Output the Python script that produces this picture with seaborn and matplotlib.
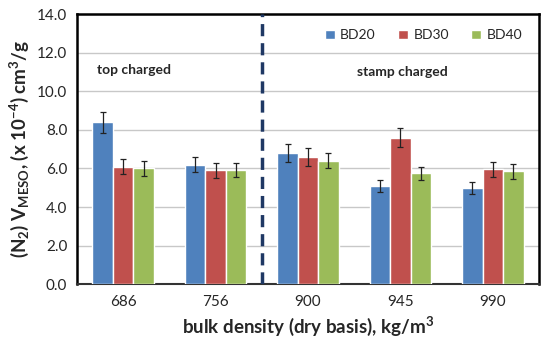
import numpy as np
import pandas as pd
import matplotlib
matplotlib.use("Agg")
import matplotlib.pyplot as plt
import seaborn as sns

densities = ["686", "756", "900", "945", "990"]
series = ["BD20", "BD30", "BD40"]
bd20 = [8.4, 6.2, 6.8, 5.1, 5.0]
bd30 = [6.1, 5.9, 6.6, 7.6, 5.95]
bd40 = [6.0, 5.9, 6.4, 5.75, 5.85]
err20 = [0.55, 0.4, 0.45, 0.3, 0.32]
err30 = [0.4, 0.4, 0.45, 0.5, 0.4]
err40 = [0.4, 0.37, 0.4, 0.35, 0.4]
colors = ["#4F81BD", "#C0504D", "#9BBB59"]

df = pd.DataFrame({
    "density": densities * 3,
    "series": [s for s in series for _ in densities],
    "value": bd20 + bd30 + bd40,
    "err": err20 + err30 + err40,
})

sns.set_style("white")
plt.rcParams["font.family"] = ["Lato", "DejaVu Sans"]
plt.rcParams["mathtext.fontset"] = "custom"
plt.rcParams["mathtext.rm"] = "Lato:bold"
plt.rcParams["mathtext.bf"] = "Lato:bold"
plt.rcParams["mathtext.it"] = "Lato:bold"
plt.rcParams["mathtext.default"] = "bf"

fig = plt.figure(figsize=(5.5, 3.53), dpi=100)
ax = fig.add_axes([0.14, 0.195, 0.84, 0.765])

sns.barplot(data=df, x="density", y="value", hue="series", palette=colors,
            width=0.665, saturation=1, errorbar=None, ax=ax, zorder=3)

# error bars at the centre of each bar
for cont, s in zip(ax.containers, series):
    sub = df[df["series"] == s]
    xs = [p.get_x() + p.get_width() / 2 for p in cont.patches]
    ax.errorbar(xs, sub["value"], yerr=sub["err"], fmt="none", ecolor="#222222",
                elinewidth=0.9, capsize=2.5, capthick=0.9, zorder=4)

ax.set_ylim(0, 14)
ax.set_yticks(np.arange(0, 14.1, 2))
ax.set_yticklabels([f"{v:.1f}" for v in np.arange(0, 14.1, 2)], fontsize=11)
ax.set_xlim(-0.5, 4.5)
ax.tick_params(axis="x", length=0, labelsize=11, pad=8)
ax.set_xticks(np.arange(-0.5, 4.6, 1), minor=True)
ax.tick_params(axis="x", which="minor", length=4, color="#999999", direction="out")
ax.tick_params(axis="y", length=4, color="#999999", direction="out", pad=3)
ax.yaxis.grid(True, color="#c8c8c8", linewidth=1)
ax.set_axisbelow(True)

for side in ["left", "top", "right"]:
    ax.spines[side].set_color("black")
    ax.spines[side].set_linewidth(1.8)
ax.spines["bottom"].set_color("#333333")
ax.spines["bottom"].set_linewidth(1.5)

ax.axvline(1.5, color="#1F3864", linewidth=2.5, linestyle=(0, (3.5, 2)), zorder=5)

ax.text(-0.28, 10.9, "top charged", fontsize=10, fontweight="bold")
ax.text(2.53, 10.8, "stamp charged", fontsize=10, fontweight="bold")

ax.set_xlabel("bulk density (dry basis), kg/m$^3$", fontsize=13.5, fontweight="bold", labelpad=4)
ax.set_ylabel(r"(N$_2$) V$_{MESO}$, (x 10$^{-4}$) cm$^3$/g", fontsize=13.5,
              fontweight="bold", labelpad=4)

ax.legend(loc="upper right", bbox_to_anchor=(0.99, 0.99), ncol=3, frameon=False,
          fontsize=10, handlelength=0.7, handleheight=0.7, columnspacing=1.6,
          handletextpad=0.4)

fig.savefig("out.png", dpi=100)
